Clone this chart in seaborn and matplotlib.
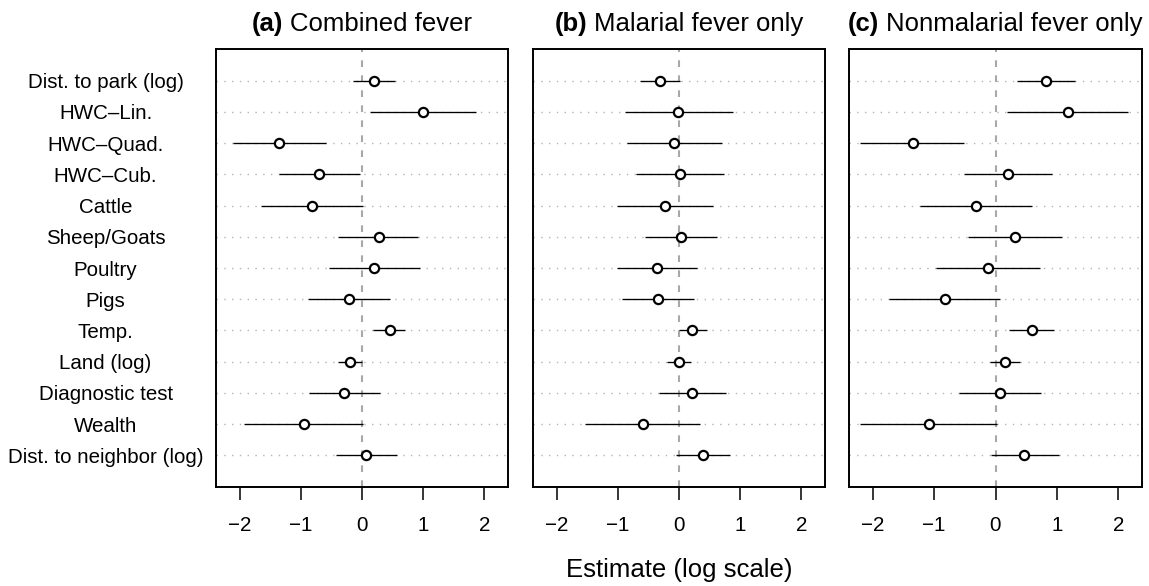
import matplotlib
matplotlib.use("Agg")
import matplotlib.pyplot as plt
import seaborn as sns
import pandas as pd
import numpy as np
from matplotlib.offsetbox import TextArea, HPacker, AnchoredOffsetbox

# ---------------- data ----------------
terms = ["Dist. to park (log)", "HWC\u2013Lin.", "HWC\u2013Quad.", "HWC\u2013Cub.",
         "Cattle", "Sheep/Goats", "Poultry", "Pigs", "Temp.", "Land (log)",
         "Diagnostic test", "Wealth", "Dist. to neighbor (log)"]

panel_tags = ["(a)", "(b)", "(c)"]
panel_names = ["Combined fever", "Malarial fever only", "Nonmalarial fever only"]

a_est = [0.19, 1.00, -1.35, -0.70, -0.81, 0.27, 0.20, -0.21, 0.45, -0.19, -0.29, -0.94, 0.07]
a_lo  = [-0.15, 0.13, -2.10, -1.36, -1.65, -0.39, -0.54, -0.875, 0.18, -0.39, -0.86, -1.92, -0.43]
a_hi  = [0.54, 1.87, -0.59, -0.03, 0.02, 0.91, 0.95, 0.46, 0.70, 0.00, 0.29, 0.01, 0.57]

b_est = [-0.31, -0.01, -0.08, 0.02, -0.23, 0.03, -0.36, -0.34, 0.22, 0.00, 0.22, -0.59, 0.40]
b_lo  = [-0.64, -0.89, -0.85, -0.70, -1.02, -0.56, -1.02, -0.93, 0.00, -0.20, -0.33, -1.53, -0.05]
b_hi  = [0.01, 0.875, 0.71, 0.73, 0.56, 0.62, 0.29, 0.24, 0.46, 0.20, 0.76, 0.34, 0.83]

c_est = [0.82, 1.18, -1.35, 0.21, -0.32, 0.31, -0.12, -0.83, 0.59, 0.15, 0.07, -1.08, 0.47]
c_lo  = [0.35, 0.19, -2.20, -0.51, -1.23, -0.45, -0.97, -1.73, 0.22, -0.09, -0.60, -2.20, -0.08]
c_hi  = [1.29, 2.16, -0.51, 0.92, 0.60, 1.08, 0.73, 0.07, 0.95, 0.40, 0.74, 0.03, 1.03]

x_ticks = [-2, -1, 0, 1, 2]
x_label = "Estimate (log scale)"

frames = []
for tag, est, lo, hi in zip(panel_tags, [a_est, b_est, c_est], [a_lo, b_lo, c_lo], [a_hi, b_hi, c_hi]):
    frames.append(pd.DataFrame({"panel": tag, "term": terms, "est": est, "lo": lo, "hi": hi}))
df = pd.concat(frames, ignore_index=True)

# ---------------- style ----------------
sns.set_style("white")
plt.rcParams["font.family"] = ["Liberation Sans", "DejaVu Sans"]
plt.rcParams["axes.unicode_minus"] = True

W, H = 1149, 586
fig = plt.figure(figsize=(W / 100, H / 100), dpi=100)

ax_top, ax_bot = 49.3, 486.7
lefts = [216, 533, 849]
widths = [292, 292, 293]
TICK_FS = 14.8
TITLE_FS = 18.5

for i, (tag, name) in enumerate(zip(panel_tags, panel_names)):
    ax = fig.add_axes([lefts[i] / W, 1 - ax_bot / H, widths[i] / W, (ax_bot - ax_top) / H])
    sub = df[df["panel"] == tag]

    sns.scatterplot(data=sub, x="est", y="term", ax=ax, marker="o", s=44,
                    facecolor="white", edgecolor="black", linewidth=1.6, zorder=4,
                    legend=False)
    ax.hlines(sub["term"], sub["lo"], sub["hi"], color="black", lw=0.95, zorder=3)
    ax.axvline(0, color="#a8a8a8", lw=1.5, ls=(0, (3.2, 4.0)), zorder=2)

    ax.yaxis.grid(True, color="#b4b4b4", lw=1.0, ls=(0, (1, 4.6)), zorder=1)
    ax.xaxis.grid(False)
    ax.set_axisbelow(True)

    ax.set_xlim(-2.385, 2.385)
    ax.set_ylim(len(terms), -1)
    ax.set_xticks(x_ticks)
    ax.set(xlabel="", ylabel="")

    for sp in ax.spines.values():
        sp.set_visible(True)
        sp.set_color("black")
        sp.set_linewidth(1.4)

    ax.tick_params(axis="x", bottom=True, direction="out", length=9, width=1.1,
                   color="black", labelsize=TICK_FS, pad=12, labelcolor="black")
    ax.tick_params(axis="y", left=False, labelsize=TICK_FS, labelcolor="black")
    if i == 0:
        ax.tick_params(axis="y", pad=76)
        for lbl in ax.get_yticklabels():
            lbl.set_ha("center")
    else:
        ax.tick_params(axis="y", labelleft=False)

    ta1 = TextArea(tag, textprops=dict(fontweight="bold", fontsize=TITLE_FS, color="black"))
    ta2 = TextArea(name, textprops=dict(fontsize=TITLE_FS, color="black"))
    box = HPacker(children=[ta1, ta2], align="baseline", pad=0, sep=5)
    anch = AnchoredOffsetbox(loc="lower center", child=box, pad=0, borderpad=0,
                             frameon=False, bbox_to_anchor=(0.5, 1.03),
                             bbox_transform=ax.transAxes)
    ax.add_artist(anch)

fig.text((lefts[1] + widths[1] / 2) / W, 1 - 570 / H, x_label, ha="center", va="center",
         fontsize=TITLE_FS, color="black")

fig.savefig("out.png", dpi=100, facecolor="white")
